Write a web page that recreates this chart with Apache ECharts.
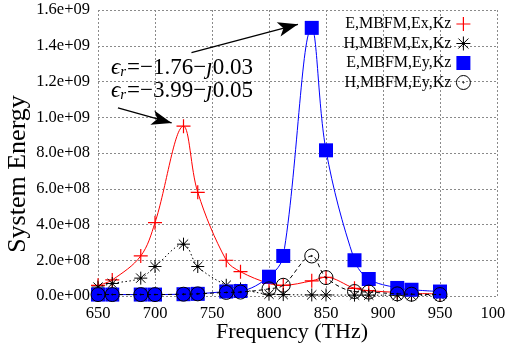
<!DOCTYPE html>
<html>
<head>
<meta charset="utf-8">
<script src="https://cdn.jsdelivr.net/npm/echarts@6/dist/echarts.min.js"></script>
<style>html,body{margin:0;padding:0;background:#fff}#c{width:505px;height:346px}</style>
</head>
<body>
<div id="c"></div>
<script>
// Frequency (THz)
var freq = [650, 662.5, 687.5, 700, 725, 737.5, 762.5, 775, 800, 812.5, 837.5, 850, 875, 887.5, 912.5, 925, 950];
// E,MBFM,Ex,Kz
var eEx = [6.0e7, 9.0e7, 2.24e8, 4.1e8, 9.5e8, 5.8e8, 2.0e8, 1.36e8, 7.0e7, 6.0e7, 8.5e7, 1.05e8, 4.3e7, 3.0e7, 2.0e7, 1.5e7, 1.2e7];
// H,MBFM,Ex,Kz
var hEx = [5.0e7, 7.0e7, 1.0e8, 1.65e8, 2.9e8, 1.65e8, 6.0e7, 4.0e7, 1.0e7, 8.0e6, 6.0e6, 6.0e6, 5.0e6, 5.0e6, 4.0e6, 4.0e6, 3.0e6];
// E,MBFM,Ey,Kz
var eEy = [8.0e6, 8.0e6, 8.0e6, 8.0e6, 1.0e7, 1.2e7, 2.5e7, 2.8e7, 1.08e8, 2.24e8, 1.5e9, 8.15e8, 2.0e8, 9.5e7, 4.5e7, 3.5e7, 2.5e7];
// H,MBFM,Ey,Kz
var hEy = [8.0e6, 8.0e6, 8.0e6, 8.0e6, 1.0e7, 1.2e7, 2.0e7, 2.2e7, 4.0e7, 6.0e7, 2.24e8, 1.03e8, 2.5e7, 2.2e7, 1.2e7, 1.0e7, 8.0e6];
var seriesNames = ['E,MBFM,Ex,Kz', 'H,MBFM,Ex,Kz', 'E,MBFM,Ey,Kz', 'H,MBFM,Ey,Kz'];
var xTicks = {min: 650, max: 1000, interval: 50};
var yTicks = {min: 0, max: 1.6e9, interval: 2e8};
// annotation arrows (data coords)
var arrow1 = [[732, 1.361e9], [825.4, 1.52e9]];
var arrow2 = [[667.5, 1.052e9], [714.6, 0.968e9]];

function pairs(xs, ys){ return xs.map(function(x,i){return [x, ys[i]];}); }

var SERIF = "'Liberation Serif', 'Times New Roman', serif";
var plusPath = 'path://M7,0L7,14M0,7L14,7';
var starPath = 'path://M7,0L7,14M0,7L14,7M2,2L12,12M2,12L12,2M6.2,6.2L7.8,6.2L7.8,7.8L6.2,7.8Z';
var circPath = 'path://M14,7A7,7 0 1 1 0,7A7,7 0 1 1 14,7ZM6.4,7A0.6,0.6 0 1 1 7.6,7A0.6,0.6 0 1 1 6.4,7Z';

function fmtY(v){
  if (v === 0) return '0.0e+00';
  var s = v.toExponential(1);
  var p = s.split('e');
  var ex = parseInt(p[1], 10);
  var sign = ex < 0 ? '-' : '+';
  ex = Math.abs(ex);
  return p[0] + 'e' + sign + (ex < 10 ? '0' + ex : ex);
}

var chart = echarts.init(document.getElementById('c'), null, {renderer: 'canvas'});
var splitStyle = {show: true, lineStyle: {color: '#8a8a8a', type: [2, 2], width: 1}};
var richE = {
  e: {fontFamily: SERIF, fontStyle: 'italic', fontSize: 23, fill: '#000'},
  s: {fontFamily: SERIF, fontStyle: 'italic', fontSize: 15, fill: '#000', verticalAlign: 'bottom', padding: [9, 1, 0, 0]},
  n: {fontFamily: SERIF, fontSize: 23, fill: '#000'}
};
chart.setOption({
  animation: false,
  backgroundColor: '#fff',
  textStyle: {fontFamily: SERIF},
  grid: {left: 98, right: 8, top: 10, bottom: 50, containLabel: false, outerBoundsMode: 'none'},
  xAxis: {
    type: 'value', min: xTicks.min, max: xTicks.max, interval: xTicks.interval,
    axisLine: {show: false}, axisTick: {show: false},
    splitLine: splitStyle,
    axisLabel: {color: '#000', fontFamily: SERIF, fontSize: 16.5, margin: 9, formatter: function(v){ return String(v); }}
  },
  yAxis: {
    type: 'value', min: yTicks.min, max: yTicks.max, interval: yTicks.interval,
    axisLine: {show: false}, axisTick: {show: false},
    splitLine: splitStyle,
    axisLabel: {color: '#000', fontFamily: SERIF, fontSize: 16.5, margin: 8, formatter: fmtY}
  },
  legend: {
    orient: 'vertical', right: 29, top: 11, align: 'right',
    itemWidth: 14, itemHeight: 14, itemGap: 3.5,
    textStyle: {color: '#000', fontFamily: SERIF, fontSize: 16, padding: [0, 0, 0, 0]},
    data: [
      {name: seriesNames[0], icon: plusPath, itemStyle: {color: 'rgba(0,0,0,0)', borderColor: '#ff0000', borderWidth: 1.2}},
      {name: seriesNames[1], icon: starPath, itemStyle: {color: '#000', borderColor: '#000', borderWidth: 1}},
      {name: seriesNames[2], icon: 'rect', itemStyle: {color: '#0000ff', borderWidth: 0}},
      {name: seriesNames[3], icon: circPath, itemStyle: {color: 'rgba(0,0,0,0)', borderColor: '#000', borderWidth: 1}}
    ]
  },
  graphic: [
    {type: 'text', left: 111, top: 56, silent: true,
      style: {text: '{e|ϵ}{s|r}{n|=−1.76−}{e|ȷ}{n|0.03}', fill: '#000', fontFamily: SERIF, fontSize: 23, rich: richE}},
    {type: 'text', left: 111, top: 79, silent: true,
      style: {text: '{e|ϵ}{s|r}{n|=−3.99−}{e|ȷ}{n|0.05}', fill: '#000', fontFamily: SERIF, fontSize: 23, rich: richE}},
    {type: 'text', x: 18, y: 174, rotation: Math.PI / 2, silent: true,
      style: {text: 'System Energy', fill: '#000', fontFamily: SERIF, fontSize: 26, align: 'center', verticalAlign: 'middle'}},
    {type: 'text', x: 292, y: 332, silent: true,
      style: {text: 'Frequency (THz)', fill: '#000', fontFamily: SERIF, fontSize: 22, align: 'center', verticalAlign: 'middle'}}
  ],
  series: [
    {name: seriesNames[0], type: 'line', data: pairs(freq, eEx), smooth: 0.35, z: 2,
      symbol: plusPath, symbolSize: 14,
      itemStyle: {color: 'rgba(0,0,0,0)', borderColor: '#ff0000', borderWidth: 1.2},
      lineStyle: {color: '#ff0000', width: 1},
      markLine: {silent: true, symbol: ['none', 'arrow'], symbolSize: [11, 20], label: {show: false},
        lineStyle: {color: '#000', width: 1.3, type: 'solid'},
        emphasis: {disabled: true},
        data: [
          [{coord: arrow1[0]}, {coord: arrow1[1]}],
          [{coord: arrow2[0]}, {coord: arrow2[1]}]
        ]}},
    {name: seriesNames[1], type: 'line', data: pairs(freq, hEx), smooth: 0.35, z: 3,
      symbol: starPath, symbolSize: 13,
      itemStyle: {color: '#000', borderColor: '#000', borderWidth: 1},
      lineStyle: {color: '#000', width: 1, type: [1.5, 2.5]}},
    {name: seriesNames[2], type: 'line', data: pairs(freq, eEy), smooth: 0.35, z: 4,
      symbol: 'rect', symbolSize: 14,
      itemStyle: {color: '#0000ff', borderWidth: 0},
      lineStyle: {color: '#0000ff', width: 1}},
    {name: seriesNames[3], type: 'line', data: pairs(freq, hEy), smooth: 0.35, z: 5,
      symbol: circPath, symbolSize: 14,
      itemStyle: {color: 'rgba(0,0,0,0)', borderColor: '#000', borderWidth: 1},
      lineStyle: {color: '#000', width: 1, type: [4, 3]}}
  ]
});
</script>
</body>
</html>
